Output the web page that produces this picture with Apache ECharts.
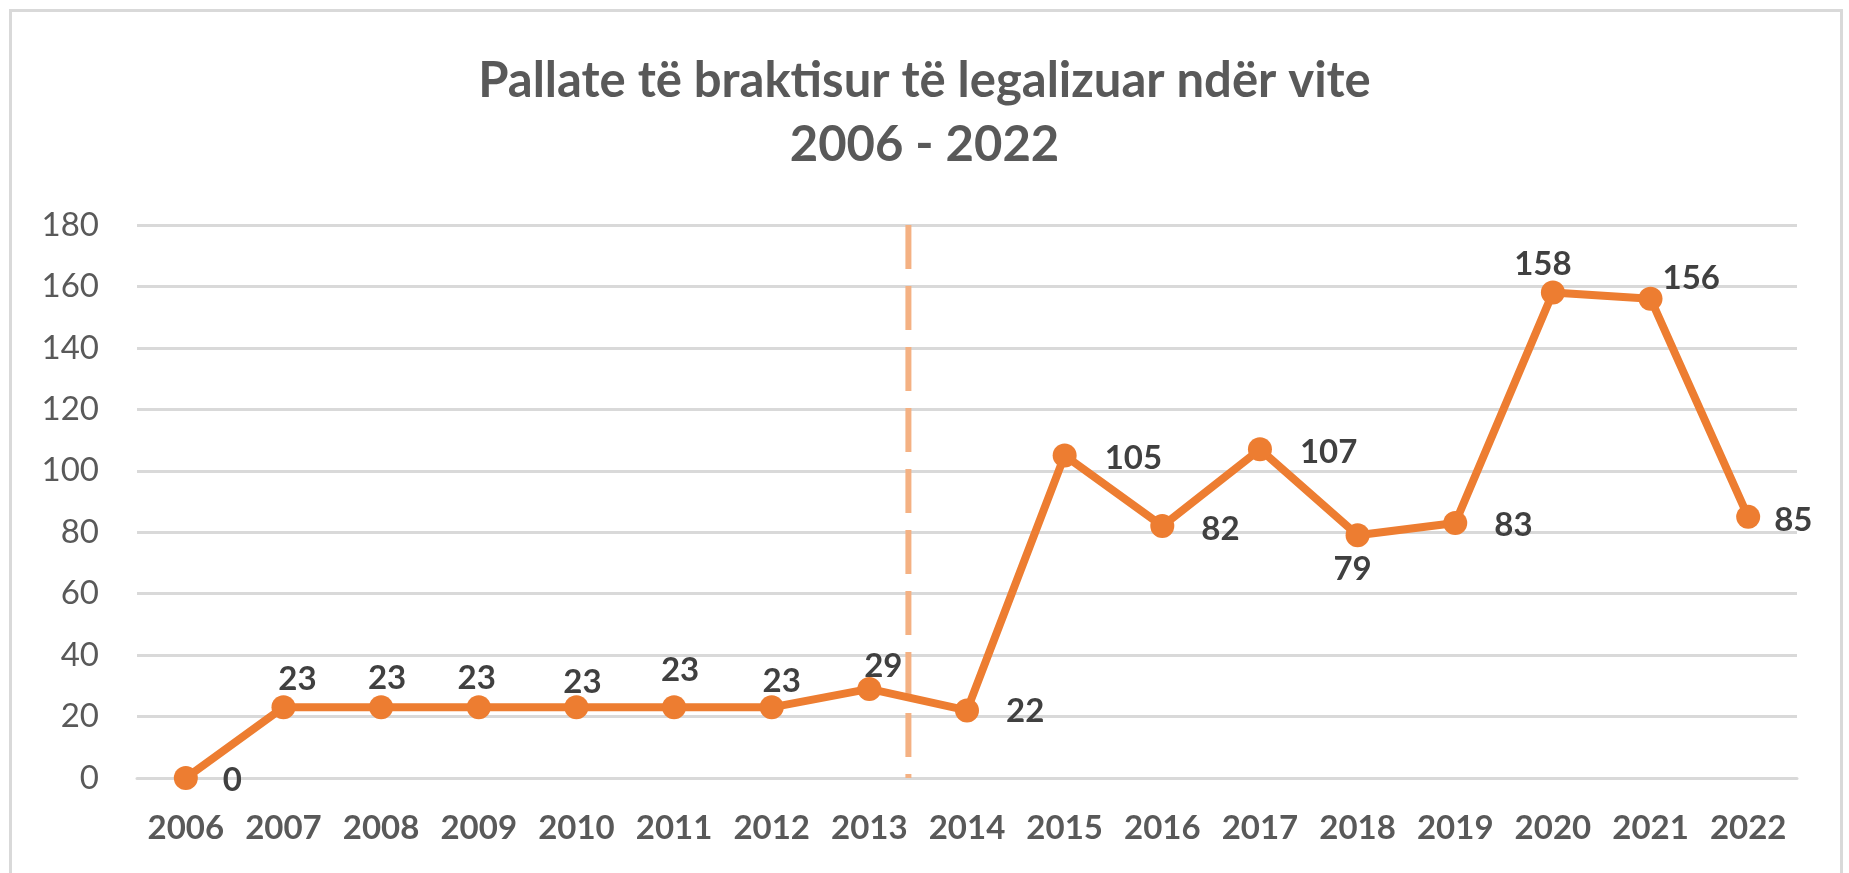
<!DOCTYPE html>
<html>
<head>
<meta charset="utf-8">
<style>
  html, body { margin: 0; padding: 0; background: #ffffff; overflow: hidden; }
  #chart { position: absolute; left: 0; top: 0; width: 1849px; height: 873px; }
  #frame { position: absolute; left: 9px; top: 9px; width: 1834px; height: 900px;
           border: 3px solid #D9D9D9; pointer-events: none; box-sizing: border-box; }
</style>
<script src="https://cdn.jsdelivr.net/npm/echarts@6/dist/echarts.min.js"></script>
</head>
<body>
<div id="chart"></div>
<div id="frame"></div>
<script>
// ---- data ----
const titleText = 'Pallate të braktisur të legalizuar ndër vite';
const subtitleText = '2006 - 2022';
const years = ['2006','2007','2008','2009','2010','2011','2012','2013','2014','2015','2016','2017','2018','2019','2020','2021','2022'];
const values = [0, 23, 23, 23, 23, 23, 23, 29, 22, 105, 82, 107, 79, 83, 158, 156, 85];
const yMin = 0;
const yMax = 180;
const yStep = 20;
const dividerAt = 7.4; // dashed divider between 2013 and 2014 (category index units)

// ---- styling (label placement per point) ----
const labelLayout = [
  { position: 'right', distance: 25, offset: [0, 2] },      // 2006
  { position: 'inside', offset: [14, -28] },               // 2007
  { position: 'inside', offset: [6, -29] },                // 2008
  { position: 'inside', offset: [-2, -29] },               // 2009
  { position: 'inside', offset: [6, -25] },                // 2010
  { position: 'inside', offset: [6, -37] },                // 2011
  { position: 'inside', offset: [10, -26] },               // 2012
  { position: 'inside', offset: [14, -23] },               // 2013
  { position: 'right', distance: 27, offset: [0, 1] },      // 2014
  { position: 'right', distance: 28, offset: [0, 3] },      // 2015
  { position: 'right', distance: 27, offset: [0, 3] },      // 2016
  { position: 'right', distance: 28, offset: [0, 3] },      // 2017
  { position: 'inside', offset: [-5, 34] },                // 2018
  { position: 'right', distance: 27, offset: [0, 2] },      // 2019
  { position: 'inside', offset: [-10, -28] },              // 2020
  { position: 'right', distance: 0, offset: [0, -20] },     // 2021
  { position: 'right', distance: 14, offset: [0, 3] }       // 2022
];

const FONT = 'Lato, "Open Sans", "DejaVu Sans", sans-serif';

const seriesData = values.map((v, i) => ({
  value: v,
  label: Object.assign({}, labelLayout[i])
}));

const chart = echarts.init(document.getElementById('chart'), null, { renderer: 'canvas' });

const option = {
  backgroundColor: 'transparent',
  animation: false,
  title: {
    text: titleText + '\n' + subtitleText,
    left: 'center',
    top: 44,
    textStyle: {
      fontFamily: FONT,
      fontSize: 49,
      fontWeight: 'bold',
      color: '#595959',
      lineHeight: 64
    }
  },
  grid: {
    left: 137,
    right: 52,
    top: 225,
    bottom: 95,
    containLabel: false
  },
  xAxis: [
    {
      type: 'category',
      data: years,
      boundaryGap: true,
      axisLine: { show: true, lineStyle: { color: '#D9D9D9', width: 3 } },
      axisTick: { show: false },
      axisLabel: {
        interval: 0,
        fontFamily: FONT,
        fontSize: 33,
        fontWeight: 'bold',
        color: '#595959',
        margin: 34
      },
      splitLine: { show: false }
    },
    {
      type: 'value',
      min: -0.5,
      max: years.length - 0.5,
      show: false
    }
  ],
  yAxis: {
    type: 'value',
    min: yMin,
    max: yMax,
    interval: yStep,
    axisLine: { show: false },
    axisTick: { show: false },
    axisLabel: {
      fontFamily: FONT,
      fontSize: 33,
      color: '#595959',
      margin: 38
    },
    splitLine: { show: true, lineStyle: { color: '#D9D9D9', width: 3 } }
  },
  series: [
    {
      name: 'divider',
      type: 'line',
      xAxisIndex: 1,
      yAxisIndex: 0,
      silent: true,
      symbol: 'none',
      z: 1,
      data: [[dividerAt, yMax], [dividerAt, yMin]],
      lineStyle: { color: '#F4B183', width: 6, type: [44, 17] }
    },
    {
      name: 'Pallate',
      type: 'line',
      xAxisIndex: 0,
      yAxisIndex: 0,
      z: 3,
      data: seriesData,
      symbol: 'circle',
      symbolSize: 24,
      itemStyle: { color: '#ED7D31' },
      lineStyle: { color: '#ED7D31', width: 8 },
      label: {
        show: true,
        fontFamily: FONT,
        fontSize: 33,
        fontWeight: 'bold',
        color: '#404040'
      }
    }
  ]
};

chart.setOption(option);
</script>
</body>
</html>
